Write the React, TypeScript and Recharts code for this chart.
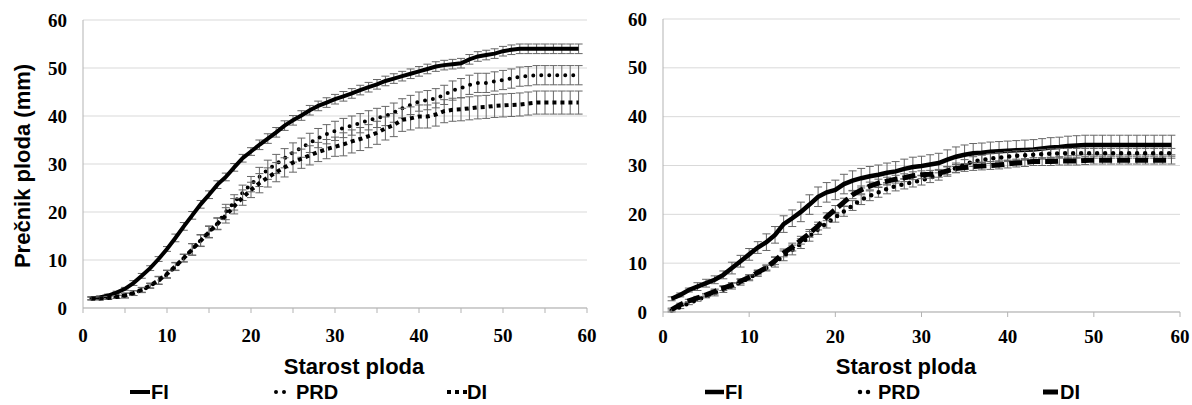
import React from 'react';
import { LineChart, Line, XAxis, YAxis, CartesianGrid, ErrorBar } from 'recharts';

const days = [1, 2, 3, 4, 5, 6, 7, 8, 9, 10, 11, 12, 13, 14, 15, 16, 17, 18, 19, 20, 21, 22, 23, 24, 25, 26, 27, 28, 29, 30, 31, 32, 33, 34, 35, 36, 37, 38, 39, 40, 41, 42, 43, 44, 45, 46, 47, 48, 49, 50, 51, 52, 53, 54, 55, 56, 57, 58, 59];

const leftFI = [2.0, 2.2, 2.6, 3.2, 4.0, 5.2, 6.7, 8.3, 10.2, 12.3, 14.6, 17.0, 19.3, 21.6, 23.6, 25.7, 27.3, 29.3, 31.2, 32.6, 34.0, 35.3, 36.6, 38.0, 39.1, 40.1, 41.2, 42.1, 42.8, 43.5, 44.1, 44.7, 45.4, 46.0, 46.6, 47.3, 47.8, 48.3, 48.8, 49.3, 49.8, 50.3, 50.6, 50.8, 51.0, 51.8, 52.4, 52.7, 53.0, 53.5, 53.8, 54.0, 54.0, 54.0, 54.0, 54.0, 54.0, 54.0, 54.0];
const leftPRD = [2.0, 2.0, 2.1, 2.3, 2.6, 3.1, 3.7, 4.6, 5.7, 7.0, 8.6, 10.4, 12.2, 14.1, 15.9, 17.6, 20.0, 22.0, 24.0, 25.8, 27.3, 28.8, 30.0, 31.2, 32.4, 33.4, 34.4, 35.4, 36.2, 36.9, 37.5, 38.0, 38.5, 39.1, 39.6, 40.0, 40.7, 41.6, 42.3, 43.0, 43.3, 43.7, 44.4, 45.3, 45.8, 46.5, 46.9, 46.9, 47.2, 47.5, 47.8, 48.2, 48.3, 48.5, 48.5, 48.5, 48.5, 48.5, 48.5];
const leftDI = [2.0, 2.0, 2.1, 2.3, 2.6, 3.1, 3.8, 4.7, 5.8, 7.1, 8.7, 10.4, 12.2, 14.0, 15.8, 17.5, 19.3, 21.2, 23.0, 24.6, 26.0, 27.2, 28.3, 29.3, 30.3, 31.1, 31.8, 32.5, 33.1, 33.6, 34.1, 34.7, 35.2, 35.8, 36.5, 37.4, 38.1, 39.2, 39.5, 39.9, 39.9, 40.3, 41.0, 41.3, 41.4, 41.6, 41.8, 41.9, 42.1, 42.2, 42.3, 42.4, 42.6, 42.8, 42.8, 42.8, 42.8, 42.8, 42.8];

const leftFIErr = [0.3, 0.3, 0.3, 0.3, 0.3, 0.5, 0.5, 0.5, 0.5, 0.5, 0.8, 0.8, 0.8, 0.8, 0.8, 0.8, 0.8, 0.8, 0.8, 0.8, 1.0, 1.0, 1.0, 1.0, 1.0, 1.0, 1.0, 1.0, 1.0, 1.0, 1.0, 1.0, 1.0, 1.0, 1.0, 1.0, 1.0, 1.0, 1.0, 1.0, 1.0, 1.0, 1.0, 1.0, 1.0, 1.0, 1.0, 1.0, 1.0, 1.0, 1.0, 1.0, 1.0, 1.0, 1.0, 1.0, 1.0, 1.0, 1.0];
const leftPRDErr = [0.3, 0.3, 0.3, 0.3, 0.5, 0.5, 0.5, 0.5, 0.8, 0.8, 0.8, 0.8, 1.2, 1.2, 1.2, 1.2, 1.6, 1.6, 1.6, 1.6, 2.0, 2.0, 2.0, 2.0, 2.0, 2.0, 2.0, 2.0, 2.0, 2.0, 2.0, 2.0, 2.0, 2.0, 2.0, 2.0, 2.0, 2.0, 2.0, 2.0, 2.0, 2.0, 2.0, 2.0, 2.0, 2.0, 2.0, 2.0, 2.0, 2.0, 2.0, 2.0, 2.0, 2.0, 2.0, 2.0, 2.0, 2.0, 2.0];
const leftDIErr = [0.3, 0.3, 0.3, 0.3, 0.5, 0.5, 0.5, 0.5, 0.8, 0.8, 0.8, 0.8, 1.2, 1.2, 1.2, 1.2, 1.6, 1.6, 1.6, 1.6, 2.0, 2.0, 2.0, 2.0, 2.0, 2.0, 2.0, 2.0, 2.0, 2.0, 2.4, 2.4, 2.4, 2.4, 2.4, 2.4, 2.4, 2.4, 2.4, 2.4, 2.4, 2.4, 2.4, 2.4, 2.4, 2.4, 2.4, 2.4, 2.4, 2.4, 2.4, 2.4, 2.4, 2.4, 2.4, 2.4, 2.4, 2.4, 2.4];

const rightFI = [2.7, 3.5, 4.5, 5.2, 5.9, 6.6, 7.6, 9.0, 10.4, 11.8, 13.2, 14.3, 15.8, 18.0, 19.2, 20.5, 22.0, 23.6, 24.5, 25.0, 26.2, 26.9, 27.4, 27.8, 28.1, 28.5, 28.8, 29.3, 29.7, 29.9, 30.2, 30.5, 31.2, 31.8, 32.2, 32.5, 32.6, 32.8, 32.9, 33.0, 33.1, 33.2, 33.3, 33.5, 33.7, 33.8, 34.0, 34.1, 34.2, 34.2, 34.2, 34.2, 34.2, 34.2, 34.2, 34.2, 34.2, 34.2, 34.2];
const rightPRD = [0.3, 1.0, 1.8, 2.5, 3.2, 3.9, 4.6, 5.3, 6.1, 7.0, 7.9, 9.0, 10.2, 11.5, 12.7, 14.0, 15.5, 16.9, 18.2, 19.4, 20.6, 21.8, 23.0, 23.8, 24.5, 25.2, 25.8, 26.2, 26.6, 27.0, 27.5, 28.0, 28.8, 29.5, 30.2, 30.8, 31.1, 31.4, 31.6, 31.8, 32.0, 32.1, 32.2, 32.3, 32.4, 32.5, 32.5, 32.5, 32.5, 32.5, 32.5, 32.5, 32.5, 32.5, 32.5, 32.5, 32.5, 32.5, 32.5];
const rightDI = [0.5, 1.5, 2.3, 2.9, 3.5, 4.2, 4.9, 5.5, 6.3, 7.1, 8.1, 9.1, 10.5, 12.1, 13.3, 14.7, 16.1, 17.6, 19.5, 21.0, 22.5, 24.0, 25.0, 25.8, 26.4, 26.8, 27.2, 27.5, 27.9, 28.1, 28.2, 28.4, 28.9, 29.4, 29.6, 29.8, 29.9, 30.0, 30.1, 30.3, 30.5, 30.6, 30.8, 30.8, 30.8, 30.9, 30.9, 30.9, 31.0, 31.1, 31.1, 31.1, 31.1, 31.1, 31.1, 31.1, 31.1, 31.1, 31.1];

const rightFIErr = [0.4, 0.4, 0.4, 0.8, 0.8, 0.8, 0.8, 1.2, 1.2, 1.2, 1.2, 1.7, 1.7, 1.7, 1.7, 2.0, 2.0, 2.0, 2.0, 2.0, 2.0, 2.0, 2.0, 2.0, 2.0, 2.0, 2.0, 2.0, 2.0, 2.0, 2.0, 2.0, 2.0, 2.0, 2.0, 2.0, 2.0, 2.0, 2.0, 2.0, 2.0, 2.0, 2.0, 2.0, 2.0, 2.0, 2.0, 2.0, 2.0, 2.0, 2.0, 2.0, 2.0, 2.0, 2.0, 2.0, 2.0, 2.0, 2.0];
const rightPRDErr = [0.3, 0.3, 0.3, 0.3, 0.3, 0.6, 0.6, 0.6, 0.6, 0.6, 0.6, 0.6, 1.0, 1.0, 1.0, 1.0, 1.0, 1.0, 1.0, 1.0, 1.0, 1.0, 1.0, 1.0, 1.0, 1.0, 1.0, 1.0, 1.0, 1.0, 1.0, 1.0, 1.0, 1.0, 1.0, 1.0, 1.0, 1.0, 1.0, 1.0, 1.0, 1.0, 1.0, 1.0, 1.0, 1.0, 1.0, 1.0, 1.0, 1.0, 1.0, 1.0, 1.0, 1.0, 1.0, 1.0, 1.0, 1.0, 1.0];
const rightDIErr = [0.3, 0.3, 0.3, 0.3, 0.3, 0.5, 0.5, 0.5, 0.5, 0.5, 0.5, 0.5, 0.8, 0.8, 0.8, 0.8, 0.8, 0.8, 0.8, 0.8, 0.8, 0.8, 0.8, 0.8, 0.8, 0.8, 0.8, 0.8, 0.8, 0.8, 0.8, 0.8, 0.8, 0.8, 0.8, 0.8, 0.8, 0.8, 0.8, 0.8, 0.8, 0.8, 0.8, 0.8, 0.8, 0.8, 0.8, 0.8, 0.8, 0.8, 0.8, 0.8, 0.8, 0.8, 0.8, 0.8, 0.8, 0.8, 0.8];

const yTicks = [0, 10, 20, 30, 40, 50, 60];
const leftXTicks = [0, 5, 10, 15, 20, 25, 30, 35, 40, 45, 50, 55, 60];
const rightXTicks = [0, 10, 20, 30, 40, 50, 60];

const xTitle = 'Starost ploda';
const yTitle = 'Prečnik ploda (mm)';
const seriesNames = ['FI', 'PRD', 'DI'];

const leftData = days.map((d, i) => ({
  day: d,
  fi: leftFI[i], fiErr: leftFIErr[i],
  prd: leftPRD[i], prdErr: leftPRDErr[i],
  di: leftDI[i], diErr: leftDIErr[i],
}));
const rightData = days.map((d, i) => ({
  day: d,
  fi: rightFI[i], fiErr: rightFIErr[i],
  prd: rightPRD[i], prdErr: rightPRDErr[i],
  di: rightDI[i], diErr: rightDIErr[i],
}));

const serif = '"Liberation Serif", "Times New Roman", serif';
const sans = '"Liberation Sans", Arial, sans-serif';
const axisGray = '#b3b3b3';
const errColor = '#666';

const XTick = (props: any) => {
  const { x, y, payload, onlyTens } = props;
  const v = payload.value;
  if (onlyTens && v % 10 !== 0) return <g />;
  return (
    <text x={x} y={y} dy="0.71em" textAnchor="middle" style={{ fontFamily: serif, fontWeight: 700, fontSize: 19, fill: '#000' }}>
      {String(v)}
    </text>
  );
};

const YTick = (props: any) => {
  const { x, y, payload } = props;
  return (
    <text x={x} y={y} dy="0.35em" textAnchor="end" style={{ fontFamily: serif, fontWeight: 700, fontSize: 19, fill: '#000' }}>
      {String(payload.value)}
    </text>
  );
};

function App() {
  const ly = 399;
  return (
    <div style={{ position: 'absolute', left: 0, top: 0, width: 1192, height: 405, background: '#fff', overflow: 'hidden' }}>
      <div style={{ position: 'absolute', left: 0, top: 0 }}>
        <LineChart width={600} height={405} data={leftData} margin={{ top: 20, right: 13, bottom: 67, left: 0 }}>
          <CartesianGrid vertical={false} stroke="#d9d9d9" />
          <XAxis type="number" dataKey="day" domain={[0, 60]} ticks={leftXTicks} height={30}
            tick={<XTick onlyTens />} stroke={axisGray} tickSize={5} tickMargin={16} interval={0} />
          <YAxis domain={[0, 60]} ticks={yTicks} width={83} tick={<YTick />} tickLine={false} tickSize={0} tickMargin={16} stroke={axisGray} />
          <Line dataKey="fi" stroke="#000" strokeWidth={4} dot={false} isAnimationActive={false}>
            <ErrorBar dataKey="fiErr" width={4} stroke={errColor} strokeWidth={1} direction="y" />
          </Line>
          <Line dataKey="prd" stroke="#000" strokeWidth={4} strokeDasharray="0 8" strokeLinecap="round" dot={false} isAnimationActive={false}>
            <ErrorBar dataKey="prdErr" width={4} stroke={errColor} strokeWidth={1} direction="y" />
          </Line>
          <Line dataKey="di" stroke="#000" strokeWidth={4} strokeDasharray="4 4" dot={false} isAnimationActive={false}>
            <ErrorBar dataKey="diErr" width={4} stroke={errColor} strokeWidth={1} direction="y" />
          </Line>
        </LineChart>
      </div>
      <div style={{ position: 'absolute', left: 600, top: 0 }}>
        <LineChart width={592} height={405} data={rightData} margin={{ top: 19, right: 12, bottom: 63, left: 0 }}>
          <CartesianGrid vertical={false} stroke="#d9d9d9" />
          <XAxis type="number" dataKey="day" domain={[0, 60]} ticks={rightXTicks} height={30}
            tick={<XTick />} stroke={axisGray} tickSize={5} tickMargin={13} interval={0} />
          <YAxis domain={[0, 60]} ticks={yTicks} width={63} tick={<YTick />} tickLine={false} tickSize={0} tickMargin={16} stroke={axisGray} />
          <Line dataKey="fi" stroke="#000" strokeWidth={4.5} dot={false} isAnimationActive={false}>
            <ErrorBar dataKey="fiErr" width={4} stroke={errColor} strokeWidth={1} direction="y" />
          </Line>
          <Line dataKey="prd" stroke="#000" strokeWidth={4.5} strokeDasharray="0 8" strokeLinecap="round" dot={false} isAnimationActive={false}>
            <ErrorBar dataKey="prdErr" width={4} stroke={errColor} strokeWidth={1} direction="y" />
          </Line>
          <Line dataKey="di" stroke="#000" strokeWidth={5} strokeDasharray="13 5" dot={false} isAnimationActive={false}>
            <ErrorBar dataKey="diErr" width={4} stroke={errColor} strokeWidth={1} direction="y" />
          </Line>
        </LineChart>
      </div>
      <svg width={1192} height={405} style={{ position: 'absolute', left: 0, top: 0, pointerEvents: 'none' }}>
        <g fontFamily={sans} fontWeight={700} fill="#000">
          <text x={22} y={166} fontSize={22} textAnchor="middle" dominantBaseline="central" transform="rotate(-90 22 166)">{yTitle}</text>
          <text x={354} y={374} fontSize={22} textAnchor="middle">{xTitle}</text>
          <text x={906} y={374} fontSize={22} textAnchor="middle">{xTitle}</text>

          <g fontSize={20}>
            <line x1={130} y1={ly - 7} x2={150} y2={ly - 7} stroke="#000" strokeWidth={4} />
            <text x={151} y={ly}>{seriesNames[0]}</text>
            <line x1={276} y1={ly - 7} x2={292} y2={ly - 7} stroke="#000" strokeWidth={4} strokeDasharray="0 8" strokeLinecap="round" />
            <text x={296} y={ly}>{seriesNames[1]}</text>
            <line x1={447} y1={ly - 7} x2={467} y2={ly - 7} stroke="#000" strokeWidth={4} strokeDasharray="4 4" />
            <text x={467} y={ly}>{seriesNames[2]}</text>

            <line x1={705} y1={ly - 7} x2={724} y2={ly - 7} stroke="#000" strokeWidth={4.5} />
            <text x={725} y={ly}>{seriesNames[0]}</text>
            <line x1={860} y1={ly - 7} x2={876} y2={ly - 7} stroke="#000" strokeWidth={4.5} strokeDasharray="0 8" strokeLinecap="round" />
            <text x={878} y={ly}>{seriesNames[1]}</text>
            <line x1={1043} y1={ly - 7} x2={1058} y2={ly - 7} stroke="#000" strokeWidth={5} />
            <text x={1060} y={ly}>{seriesNames[2]}</text>
          </g>
        </g>
      </svg>
    </div>
  );
}

export default App;
